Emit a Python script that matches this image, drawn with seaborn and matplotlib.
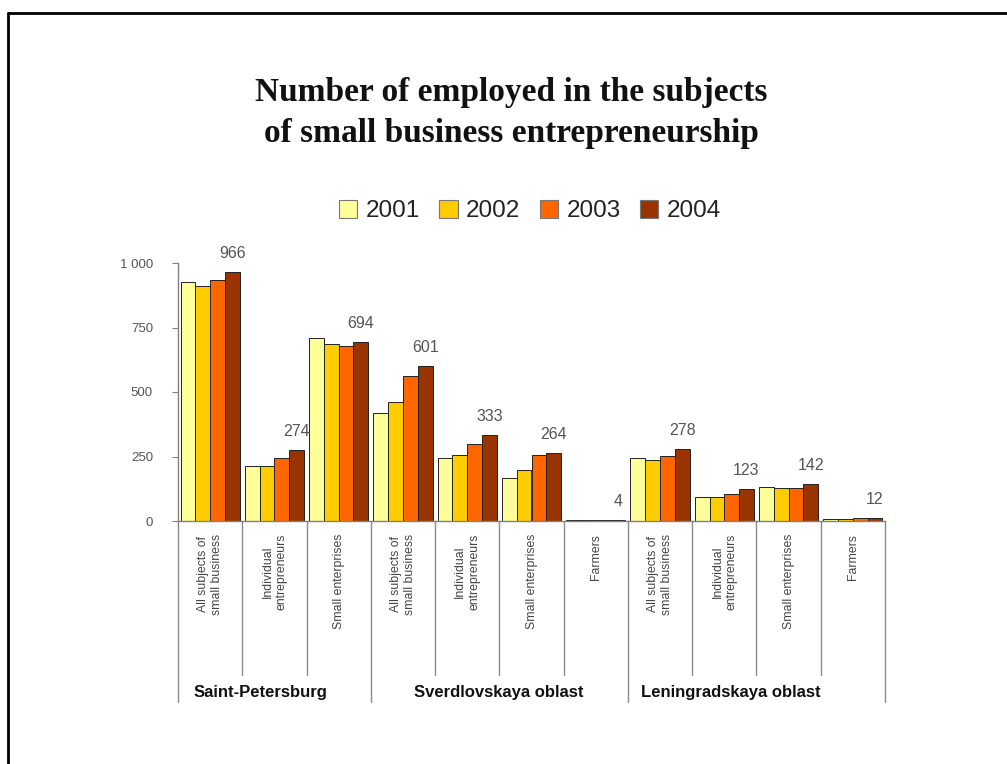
import matplotlib
matplotlib.use("Agg")
import matplotlib.pyplot as plt
from matplotlib.lines import Line2D
import seaborn as sns
import pandas as pd

# ---------------- data ----------------
regions = ["Saint-Petersburg", "Sverdlovskaya oblast", "Leningradskaya oblast"]
region_sizes = [3, 4, 4]
subcategories = [
    "All subjects of\nsmall business", "Individual\nentrepreneurs", "Small enterprises",
    "All subjects of\nsmall business", "Individual\nentrepreneurs", "Small enterprises", "Farmers",
    "All subjects of\nsmall business", "Individual\nentrepreneurs", "Small enterprises", "Farmers",
]
years = ["2001", "2002", "2003", "2004"]
v2001 = [925, 214, 708, 417, 246, 165, 3, 246, 93, 131, 6]
v2002 = [912, 214, 687, 462, 256, 196, 3, 237, 93, 126, 6]
v2003 = [933, 245, 680, 562, 300, 254, 4, 253, 104, 126, 10]
v2004 = [966, 274, 694, 601, 333, 264, 4, 278, 123, 142, 12]
colors = ["#FFFF99", "#FFCC00", "#FF6600", "#993300"]

# ---------------- dataframe ----------------
keys = [f"c{i}" for i in range(len(subcategories))]
rows = []
for y, vals in zip(years, [v2001, v2002, v2003, v2004]):
    for k, v in zip(keys, vals):
        rows.append({"cat": k, "year": y, "value": v})
df = pd.DataFrame(rows)

sns.set_style("white")
plt.rcParams["font.family"] = ["Liberation Sans", "DejaVu Sans"]

fig = plt.figure(figsize=(10.07, 7.64), dpi=100)
W, H = 1007, 764
ax = fig.add_axes([178 / W, 1 - 521 / H, (885 - 178) / W, (521 - 263) / H])

sns.barplot(data=df, x="cat", y="value", hue="year", order=keys, hue_order=years,
            palette=colors, saturation=1, width=0.92, edgecolor="#222222",
            linewidth=0.7, ax=ax, legend=True)

ax.set_ylim(0, 1000)
ax.set_xlim(-0.5, len(keys) - 0.5)
ax.set_yticks([0, 250, 500, 750, 1000])
ax.set_yticklabels(["0", "250", "500", "750", "1 000"], fontsize=9.5, color="#555555")
ax.tick_params(axis="y", length=4, width=0.8, color="#808080", pad=14, left=True)
ax.tick_params(axis="x", length=0, labelbottom=False)
ax.set_xlabel("")
ax.set_ylabel("")
for s in ["top", "right"]:
    ax.spines[s].set_visible(False)
for s in ["left", "bottom"]:
    ax.spines[s].set_color("#808080")
    ax.spines[s].set_linewidth(1.0)

# value labels for 2004
ax.bar_label(ax.containers[3], labels=[str(v) for v in v2004], padding=8,
             fontsize=11.5, color="#555555")

# separators and category labels
trans = ax.get_xaxis_transform()
ax_h = 521 - 263
short_y = -(675 - 521) / ax_h
long_y = -(702 - 521) / ax_h
bounds = [-0.5]
acc = -0.5
for n in region_sizes:
    acc += n
    bounds.append(acc)
for i in range(len(keys) + 1):
    x = i - 0.5
    y1 = long_y if x in bounds else short_y
    ax.add_line(Line2D([x, x], [0, y1], transform=trans, color="#8a8a8a",
                       lw=1.0, clip_on=False))
for i, lab in enumerate(subcategories):
    ax.text(i, -0.05, lab, transform=trans, rotation=90, ha="center", va="top",
            fontsize=8.8, color="#444444", linespacing=1.2, multialignment="center")

# region labels
region_x = [0.78, 4.49, 8.1]
for rx, rn in zip(region_x, regions):
    ax.text(rx, -(693 - 521) / ax_h, rn, transform=trans, ha="center", va="center",
            fontsize=12, fontweight="bold", color="#111111")

# legend
leg = ax.legend(loc="center", bbox_to_anchor=(530 / W, 1 - 211 / H),
                bbox_transform=fig.transFigure, ncol=4, frameon=False,
                fontsize=17.5, handlelength=0.75, handleheight=0.75,
                handletextpad=0.35, columnspacing=0.8)
for t in leg.get_texts():
    t.set_color("#222222")
for h in leg.legend_handles:
    h.set_edgecolor("#777777")
    h.set_linewidth(0.8)

# title
fig.text(511 / W, 1 - 113 / H,
         "Number of employed in the subjects\nof small business entrepreneurship",
         ha="center", va="center", fontsize=24, fontweight="bold",
         family="Liberation Serif", linespacing=1.4, color="#111111")

# frame lines
fig.add_artist(Line2D([7.5 / W, 7.5 / W], [0, 1 - 13 / H], transform=fig.transFigure,
                      color="black", lw=2.0))
fig.add_artist(Line2D([7.5 / W, 1], [1 - 13 / H, 1 - 13 / H], transform=fig.transFigure,
                      color="black", lw=2.0))

fig.savefig("out.png", dpi=100, facecolor="white")
